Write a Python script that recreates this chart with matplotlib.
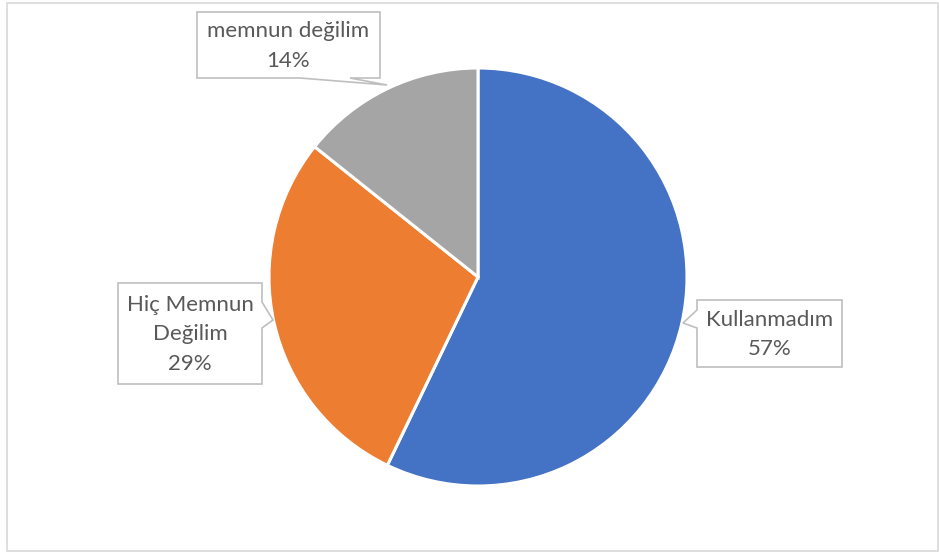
import matplotlib
matplotlib.use("Agg")
import matplotlib.pyplot as plt
from matplotlib.patches import Polygon, Rectangle

# ---- data ----
categories = ["Kullanmadım", "Hiç Memnun Değilim", "memnun değilim"]
display_labels = ["Kullanmadım", "Hiç Memnun\nDeğilim", "memnun değilim"]
values = [4, 2, 1]
colors = ["#4472C4", "#ED7D31", "#A5A5A5"]

W, H = 939, 553
fig = plt.figure(figsize=(W / 100, H / 100), dpi=100)
fig.patch.set_facecolor("white")

# pie axes in pixel coordinates (y up)
ax = fig.add_axes([0, 0, 1, 1])
cx, cy, r = 478, H - 277, 209
total = sum(values)
ax.pie(values, colors=colors, startangle=90, counterclock=False,
       center=(cx, cy), radius=r, frame=True,
       wedgeprops=dict(edgecolor="white", linewidth=2.2))
ax.set_xlim(0, W)
ax.set_ylim(0, H)
ax.set_aspect("auto")
ax.axis("off")

# overlay axes (y down, pixel coords) for chart border and callouts
ov = fig.add_axes([0, 0, 1, 1])
ov.set_xlim(0, W)
ov.set_ylim(H, 0)
ov.axis("off")
ov.patch.set_alpha(0)
ov.add_patch(Rectangle((6.5, 2.5), 931, 548.5, fill=False, edgecolor="#D9D9D9", linewidth=1.2))

# callout layouts: box (x0, y0, x1, y1), pointer polygon
callouts = [
    dict(box=(697, 300, 842, 367), poly=[(697, 300), (842, 300), (842, 367), (697, 367),
                                         (697, 328), (683, 323), (697, 310)]),
    dict(box=(118, 283, 262, 384), poly=[(118, 283), (262, 283), (262, 302), (273, 320),
                                         (262, 328), (262, 384), (118, 384)]),
    dict(box=(197, 12, 380, 78), poly=[(197, 12), (380, 12), (380, 78), (350, 78),
                                       (387, 85), (300, 78), (197, 78)]),
]

for lab, v, c in zip(display_labels, values, callouts):
    pct = round(100 * v / total)
    x0, y0, x1, y1 = c["box"]
    ov.add_patch(Polygon(c["poly"], closed=True, facecolor="white",
                         edgecolor="#BFBFBF", linewidth=1.2, zorder=3))
    ov.text((x0 + x1) / 2, (y0 + y1) / 2 + 1, f"{lab}\n{pct}%", ha="center", va="center",
            fontsize=16, color="#595959", family=["Lato", "DejaVu Sans"],
            linespacing=1.62, zorder=4)

fig.savefig("out.png", dpi=100, facecolor="white")
